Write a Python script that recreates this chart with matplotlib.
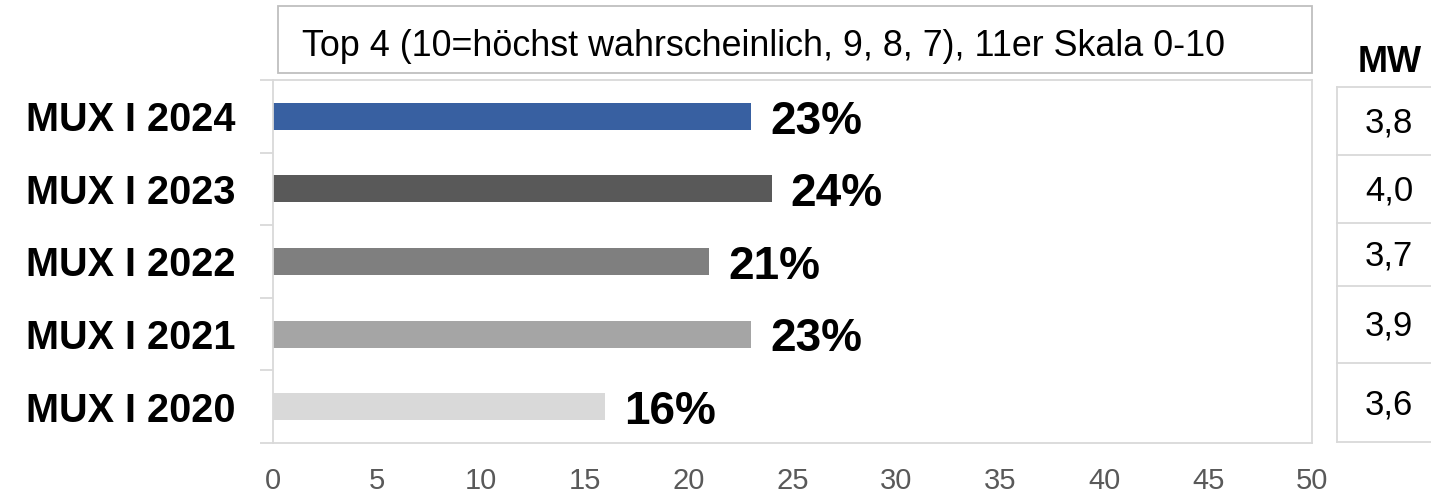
import matplotlib.pyplot as plt
from matplotlib.patches import Rectangle
from matplotlib.lines import Line2D

plt.rcParams['font.family'] = ['Liberation Sans', 'DejaVu Sans']

# Data
categories = ['MUX I 2024', 'MUX I 2023', 'MUX I 2022', 'MUX I 2021', 'MUX I 2020']
top4_share = [23, 24, 21, 23, 16]
mean_values = ['3,8', '4,0', '3,7', '3,9', '3,6']
bar_colors = ['#3860a1', '#595959', '#7f7f7f', '#a5a5a5', '#d9d9d9']
x_ticks = [0, 5, 10, 15, 20, 25, 30, 35, 40, 45, 50]
title_text = 'Top 4 (10=höchst wahrscheinlich, 9, 8, 7), 11er Skala 0-10'
mw_header = 'MW'

W, H = 1431, 494
fig = plt.figure(figsize=(W / 100, H / 100), dpi=100)


def fx(px):
    return px / W


def fy(py):
    return 1 - py / H


grid_col = '#d9d9d9'

# Main bar chart
ax = fig.add_axes([fx(273), fy(443), fx(1312) - fx(273), fy(80) - fy(443)])
pos = list(range(len(categories)))
ax.barh(pos, top4_share, height=0.37, color=bar_colors, zorder=2)
ax.set_xlim(0, 50)
ax.set_ylim(len(categories) - 0.5, -0.5)

for s in ax.spines.values():
    s.set_color(grid_col)
    s.set_linewidth(1.3)

ax.set_xticks(x_ticks)
ax.set_xticklabels([str(t) for t in x_ticks])
ax.tick_params(axis='x', length=0, pad=17, labelsize=21, labelcolor='#595959')

ax.set_yticks(pos)
ax.set_yticklabels(categories)
ax.tick_params(axis='y', which='major', length=0, pad=27, labelsize=28.5)
for lbl in ax.get_yticklabels():
    lbl.set_fontweight('bold')
ax.set_yticks([p - 0.5 for p in pos] + [len(categories) - 0.5], minor=True)
ax.tick_params(axis='y', which='minor', length=9.5, width=1.3, color=grid_col,
               direction='out')

for i, v in enumerate(top4_share):
    ax.annotate(f'{v}%', xy=(v, i), xytext=(13.7, -12.5), textcoords='offset points',
                ha='left', va='baseline', fontsize=33, fontweight='bold',
                color='black')

# Title box above the plot
fig.patches.append(Rectangle((fx(278), fy(73)), fx(1312) - fx(278), fy(6) - fy(73),
                             transform=fig.transFigure, fill=False,
                             edgecolor='#bfbfbf', linewidth=1.3))
fig.text(fx(302), fy(56), title_text, ha='left', va='baseline', fontsize=25.8,
         color='black')

# Mean value (MW) column
fig.text(fx(1390), fy(71.5), mw_header, ha='center', va='baseline', fontsize=26,
         fontweight='bold')
row_edges = [87, 155, 223, 286, 363, 442]
fig.lines.append(Line2D([fx(1337), fx(1337)], [fy(87), fy(442)],
                        transform=fig.transFigure, color=grid_col, linewidth=1.3))
for e in row_edges:
    fig.lines.append(Line2D([fx(1337), fx(1431)], [fy(e), fy(e)],
                            transform=fig.transFigure, color=grid_col, linewidth=1.3))
for i, mv in enumerate(mean_values):
    yc = (row_edges[i] + row_edges[i + 1]) / 2
    fig.text(fx(1389), fy(yc + 11.5), mv, ha='center', va='baseline', fontsize=25,
             color='black')

fig.savefig('out.png', dpi=100)
